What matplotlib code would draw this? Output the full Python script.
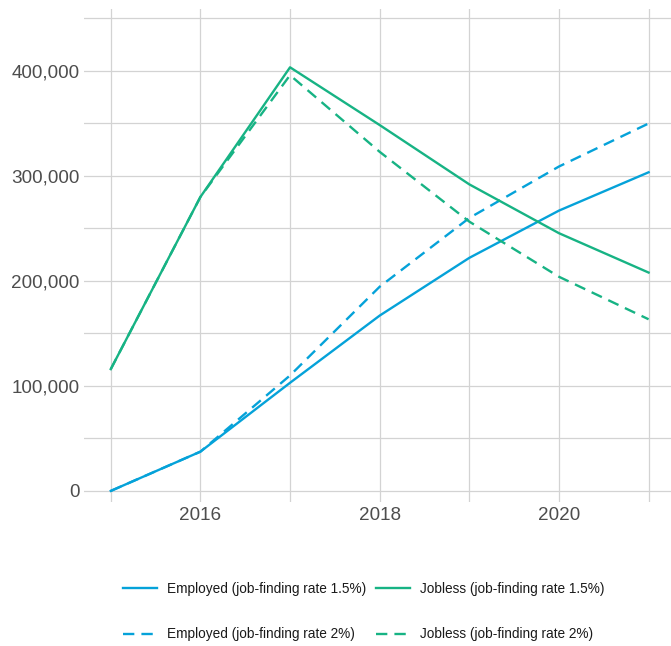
import matplotlib
matplotlib.use("Agg")
import matplotlib.pyplot as plt
from matplotlib.ticker import FuncFormatter, MultipleLocator

plt.rcParams['font.family'] = ['Liberation Sans', 'DejaVu Sans']

years = [2015, 2016, 2017, 2018, 2019, 2020, 2021]
employed_15 = [0, 37400, 103000, 167000, 222000, 267000, 303500]
employed_2 = [0, 37400, 110000, 194500, 260000, 309000, 350000]
jobless_15 = [116000, 280000, 403500, 348500, 292000, 245500, 208000]
jobless_2 = [116000, 280000, 396000, 323000, 256500, 204000, 163500]

labels = ['Employed (job-finding rate 1.5%)', 'Employed (job-finding rate 2%)',
          'Jobless (job-finding rate 1.5%)', 'Jobless (job-finding rate 2%)']

blue = '#05a2d9'
green = '#17b384'
lw = 1.7
dash = (4.8, 3.0)

fig = plt.figure(figsize=(6.71, 6.46), dpi=100)
ax = fig.add_axes([0.125, 0.223, 0.875, 0.763])

h1, = ax.plot(years, employed_15, color=blue, lw=lw, label=labels[0])
h2, = ax.plot(years, employed_2, color=blue, lw=lw, dashes=dash, label=labels[1])
h3, = ax.plot(years, jobless_15, color=green, lw=lw, label=labels[2])
h4, = ax.plot(years, jobless_2, color=green, lw=lw, dashes=dash, label=labels[3])

ax.set_xlim(2014.7, 2021.25)
ax.set_ylim(-10500, 459000)
ax.xaxis.set_major_locator(MultipleLocator(2))
ax.xaxis.set_minor_locator(MultipleLocator(1))
ax.yaxis.set_major_locator(MultipleLocator(100000))
ax.yaxis.set_minor_locator(MultipleLocator(50000))
ax.yaxis.set_major_formatter(FuncFormatter(lambda v, p: f'{int(v):,}'))
ax.xaxis.set_major_formatter(FuncFormatter(lambda v, p: f'{int(v)}'))

ax.grid(True, which='both', color='#d3d3d3', lw=0.9)
ax.set_axisbelow(True)
for s in ax.spines.values():
    s.set_visible(False)
ax.tick_params(which='both', length=0, labelsize=13.6, labelcolor='#4d4d4d')
ax.tick_params(axis='x', pad=4)
ax.tick_params(axis='y', pad=3)

fig.legend(handles=[h1, h2, h3, h4], loc='center', bbox_to_anchor=(0.542, 0.053),
           ncol=2, frameon=False, fontsize=9.8, handlelength=2.5,
           handletextpad=0.73, columnspacing=0.66, labelspacing=2.3,
           labelcolor='#1a1a1a')

fig.savefig('out.png', dpi=100)
